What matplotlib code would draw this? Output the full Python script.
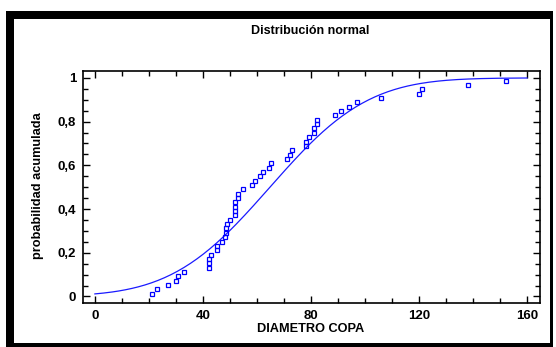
import numpy as np
import matplotlib
matplotlib.use("Agg")
import matplotlib.pyplot as plt
from matplotlib.patches import Rectangle
from math import erf, sqrt

# crown diameter sample (sorted)
diametro = [21.0, 23.0, 26.9, 29.9, 30.9, 33.1, 42.1, 42.1, 42.1, 43.0,
            45.1, 45.1, 47.0, 48.0, 48.5, 48.5, 49.0, 50.0, 52.0, 52.0,
            52.0, 52.0, 53.0, 53.0, 54.9, 58.0, 59.3, 61.1, 62.1, 64.4,
            65.1, 71.1, 72.3, 73.0, 78.0, 78.1, 79.1, 81.0, 81.0, 82.1,
            82.1, 88.9, 91.1, 94.1, 97.0, 105.9, 120.1, 121.2, 138.3, 152.1]
x_ticks = [0, 40, 80, 120, 160]
y_ticks = [0, 0.2, 0.4, 0.6, 0.8, 1]
y_labels = ['0', '0,2', '0,4', '0,6', '0,8', '1']

plt.rcParams['font.family'] = ['Liberation Sans', 'DejaVu Sans']
plt.rcParams['font.weight'] = 'bold'

x = np.sort(np.array(diametro))
n = len(x)
# empirical plotting positions
pos = (np.arange(1, n + 1) - 0.375) / (n + 0.25)

# fitted normal curve
mu = x.mean()
sigma = x.std(ddof=1)
xc = np.linspace(0, 160, 200)
yc = np.array([0.5 * (1 + erf((v - mu) / (sigma * sqrt(2)))) for v in xc])

fig = plt.figure(figsize=(5.56, 3.47), dpi=100)
ax = fig.add_axes([83 / 556, 44 / 347, 457 / 556, 232.3 / 347])

ax.plot(xc, yc, color='#1a1aff', lw=0.9)
ax.plot(x, pos, ls='none', marker='s', ms=3.0, mfc='none', mec='#0000ff', mew=0.9)

ax.set_xlim(-4.4, 164.8)
ax.set_ylim(-0.03, 1.033)
ax.set_xticks(x_ticks)
ax.set_xticks(np.arange(0, 161, 10), minor=True)
ax.set_yticks(y_ticks)
ax.set_yticklabels(y_labels)
ax.set_yticks(np.arange(0, 1.01, 0.05), minor=True)
ax.tick_params(which='both', direction='in', top=True, right=True, width=1.0,
               labelsize=9.5, pad=5)
ax.tick_params(which='major', length=5)
ax.tick_params(which='minor', length=3.5)
for s in ax.spines.values():
    s.set_linewidth(1.2)

fig.text(310 / 556, 1 - 31 / 347, 'Distribución normal', ha='center', va='center',
         fontsize=9, fontweight='bold')
fig.text(311 / 556, 1 - 329 / 347, 'DIAMETRO COPA', ha='center', va='center',
         fontsize=9.2, fontweight='bold')
fig.text(38 / 556, 1 - 186 / 347, 'probabilidad acumulada', ha='center', va='center',
         rotation=90, fontsize=9.2, fontweight='bold')

# outer frame: thick left/top, thinner right/bottom
W, H = 556, 347
frame = [(6, 11, 8, 336), (6, 11, 547, 8), (550, 11, 3, 336), (6, 343, 547, 4)]
for (fx, fy, fw, fh) in frame:
    fig.add_artist(Rectangle((fx / W, 1 - (fy + fh) / H), fw / W, fh / H,
                             transform=fig.transFigure, color='black', lw=0))

fig.savefig('out.png', dpi=100)
